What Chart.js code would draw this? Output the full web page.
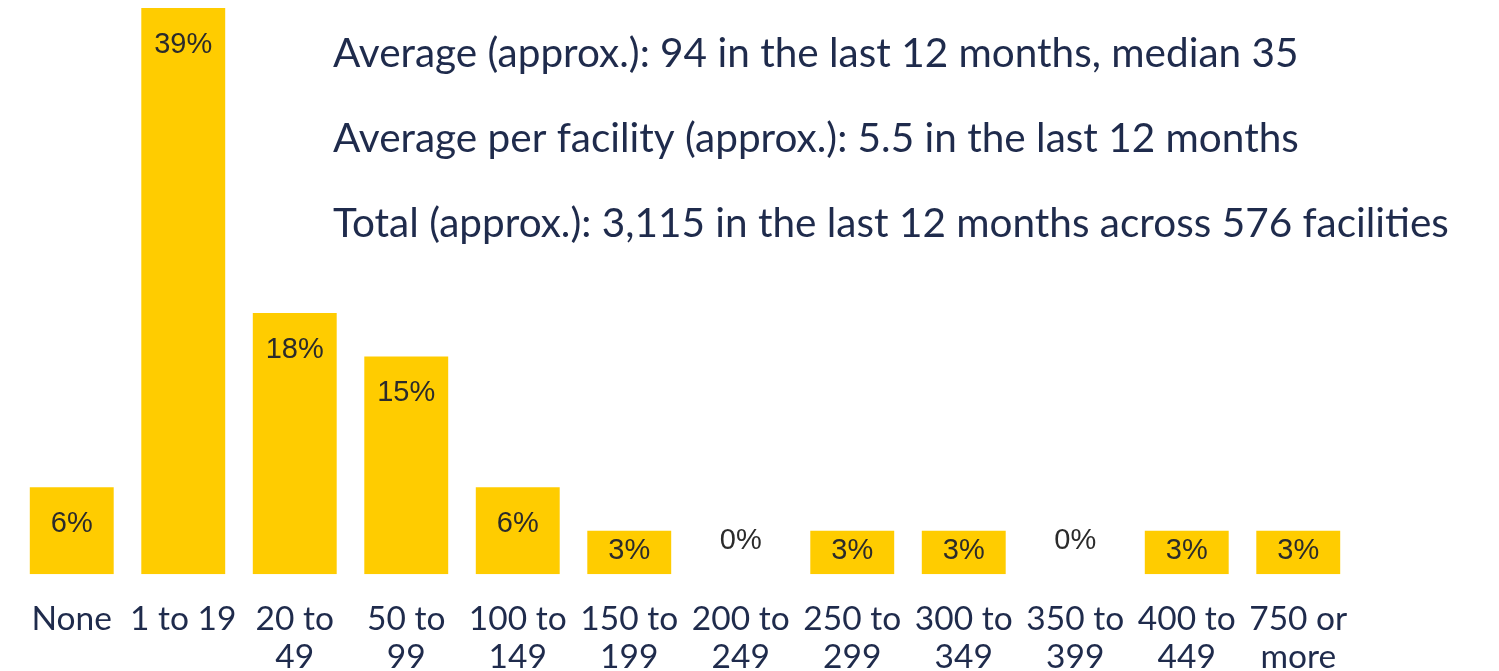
<!DOCTYPE html>
<html>
<head>
<meta charset="utf-8">
<script src="https://cdn.jsdelivr.net/npm/chart.js@4"></script>
<style>
  html, body { margin: 0; padding: 0; background: #fff; overflow: hidden; }
  #wrap { width: 1499px; height: 694px; position: relative; }
</style>
</head>
<body>
<div id="wrap"><canvas id="facility-chart"></canvas></div>
<script>
// categories (number per facility in the last 12 months)
const categories = [
    'None', '1 to 19', ['20 to', '49'], ['50 to', '99'], ['100 to', '149'], ['150 to', '199'],
    ['200 to', '249'], ['250 to', '299'], ['300 to', '349'], ['350 to', '399'], ['400 to', '449'], ['750 or', 'more']
];
// share of facilities, percent
const shares = [6, 39, 18, 15, 6, 3, 0, 3, 3, 0, 3, 3];
const notes = [
    'Average (approx.): 94 in the last 12 months, median 35',
    'Average per facility (approx.): 5.5 in the last 12 months',
    'Total (approx.): 3,115 in the last 12 months across 576 facilities'
];

const barYellow = '#FFCC00';
const navy = '#1F2B4C';

// percentage labels inside the bars
const barLabels = {
    id: 'barLabels',
    afterDatasetsDraw(chart) {
        const ctx = chart.ctx;
        const meta = chart.getDatasetMeta(0);
        ctx.save();
        ctx.font = '29px "Liberation Sans", Arial, sans-serif';
        ctx.fillStyle = '#2b2b2b';
        ctx.textAlign = 'center';
        ctx.textBaseline = 'middle';
        meta.data.forEach((bar, i) => {
            let y;
            if (shares[i] === 0) {
                y = bar.base - 33;
            } else {
                let h = bar.base - bar.y;
                y = bar.y + Math.min(37, h / 2 - 2);
            }
            ctx.fillText(shares[i] + '%', bar.x, y);
        });
        ctx.restore();
    }
};

// summary lines top right
const notesPlugin = {
    id: 'notes',
    afterDraw(chart) {
        const ctx = chart.ctx;
        ctx.save();
        ctx.font = '40.5px Lato, sans-serif';
        ctx.fillStyle = navy;
        ctx.textAlign = 'left';
        ctx.textBaseline = 'middle';
        notes.forEach((line, i) => {
            ctx.fillText(line, 333, 54 + i * 85);
        });
        ctx.restore();
    }
};

new Chart('facility-chart', {
    type: 'bar',
    data: {
        labels: categories,
        datasets: [{
            data: shares,
            backgroundColor: barYellow,
            borderWidth: 0,
            categoryPercentage: 0.86,
            barPercentage: 0.875
        }]
    },
    options: {
        responsive: true,
        maintainAspectRatio: false,
        animation: false,
        layout: {
            padding: { left: 16, right: 145, top: 8, bottom: 0 }
        },
        plugins: {
            legend: { display: false },
            tooltip: { enabled: false }
        },
        scales: {
            x: {
                grid: { display: false },
                border: { display: false },
                ticks: {
                    color: navy,
                    font: { family: 'Lato', size: 33.5, lineHeight: 1.13 },
                    padding: 18,
                    maxRotation: 0,
                    autoSkip: false
                }
            },
            y: {
                display: false,
                min: 0,
                max: 39
            }
        }
    },
    plugins: [barLabels, notesPlugin]
});
</script>
</body>
</html>
